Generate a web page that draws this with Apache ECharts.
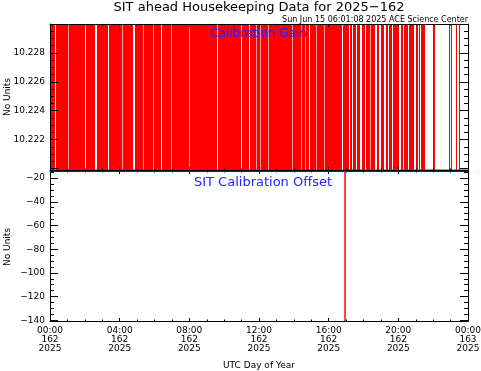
<!DOCTYPE html>
<html><head><meta charset="utf-8">
<script src="https://cdn.jsdelivr.net/npm/echarts@6/dist/echarts.min.js"></script>
<style>html,body{margin:0;padding:0;background:#fff;}#c{width:481px;height:371px;}</style>
</head><body><div id="c"></div>
<script>
// ---------- data ----------
const xTickHours = [0, 4, 8, 12, 16, 20, 24];
const xTickLabels = ['00:00\n162\n2025', '04:00\n162\n2025', '08:00\n162\n2025', '12:00\n162\n2025',
                     '16:00\n162\n2025', '20:00\n162\n2025', '00:00\n163\n2025'];
// Calibration gain: toggles between two levels
const gainLow = 10.2199;
const gainHigh = 10.2300;
// spans (hours) where the gain toggles continuously
const gainActiveSpans = [[0, 21.53]];
// isolated toggles later in the day (hours)
const gainPulses = [[21.99, 22.11], [22.90, 22.96], [23.03, 23.09], [23.31, 23.37], [23.48, 23.54]];
// short quiet intervals (hours) inside the active span
const gainQuietGaps = [
  [0.274,0.334],[1.022,1.047],[1.997,2.057],[2.611,2.671],[3.317,3.377],[4.122,4.147],[4.793,4.853],
  [5.328,5.353],[5.919,5.944],[6.383,6.443],[6.935,6.960],[7.969,7.994],[9.599,9.659],[10.977,11.037],
  [11.413,11.473],[11.856,11.881],[12.045,12.070],[12.505,12.530],[13.923,13.948],[14.440,14.465],
  [14.629,14.654],[14.858,14.918],[15.301,15.326],[15.720,15.745],[16.753,16.813],[17.155,17.215],
  [17.350,17.410],[17.580,17.640],[17.826,17.886],[18.096,18.156],[18.401,18.426],[18.688,18.748],
  [18.917,18.977],[19.204,19.264],[19.394,19.454],[19.647,19.707],[20.066,20.126],[20.255,20.315],
  [20.565,20.625],[20.927,20.987],[21.116,21.176],[21.254,21.314]
];
// Calibration offset
const offsetHours  = [0, 16.94, 16.94, 16.94, 24];
const offsetValues = [-14, -14, -140.6, -14, -14];
const offsetMin = -140.6, offsetMax = -14;

// ---------- chart ----------
const FONT = 'DejaVu Sans';
const RED = '#ff0000';
const BLUE = '#2222ff';
const chart = echarts.init(document.getElementById('c'), null, {renderer: 'canvas', width: 481, height: 371});

function rectRenderer(color) {
  return function (params, api) {
    const a = api.coord([api.value(0), api.value(2)]);
    const b = api.coord([api.value(1), api.value(3)]);
    const w = b[0] - a[0];
    let rx, rw, op = 1;
    if (w < 1) { rx = Math.floor((a[0] + b[0]) / 2); rw = 1; op = Math.min(1, w * 1.4); }
    else { rx = Math.round(a[0]); rw = Math.max(1, Math.round(b[0]) - rx); }
    return {type: 'rect', shape: {x: rx, y: a[1], width: rw, height: b[1] - a[1]},
            style: {fill: color, opacity: op}};
  };
}
const toRects = arr => arr.map(s => [s[0], s[1], gainHigh, gainLow]);

const axisLineStyle = {show: true, onZero: false, lineStyle: {color: '#000', width: 1}};
function xAx(grid, pos, labels, z) {
  return {
    type: 'value', gridIndex: grid, position: pos, min: 0, max: 24, interval: 4, z: z,
    axisLine: axisLineStyle,
    axisTick: {show: true, inside: true, length: 3, lineStyle: {color: '#000'}},
    minorTick: {show: true, splitNumber: 4, length: 1.5, lineStyle: {color: '#000'}},
    splitLine: {show: false},
    axisLabel: labels ? {
      show: true, color: '#000', fontFamily: FONT, fontSize: 9, lineHeight: 9, margin: 5,
      formatter: v => { const i = xTickHours.indexOf(Math.round(v)); return i >= 0 ? xTickLabels[i] : ''; }
    } : {show: false},
    name: labels ? 'UTC Day of Year' : '',
    nameLocation: 'middle', nameGap: 40,
    nameTextStyle: {color: '#000', fontFamily: FONT, fontSize: 9}
  };
}
function yAx(grid, pos, min, max, split, labels, fmt, z) {
  return {
    type: 'value', gridIndex: grid, position: pos, min: min, max: max, splitNumber: split, z: z,
    axisLine: axisLineStyle,
    axisTick: {show: true, inside: true, length: 8, lineStyle: {color: '#000'}},
    minorTick: {show: true, splitNumber: 4, length: 4, lineStyle: {color: '#000'}},
    splitLine: {show: false},
    axisLabel: labels ? {show: true, color: '#000', fontFamily: FONT, fontSize: 9, margin: 5,
      showMinLabel: false, showMaxLabel: false, formatter: fmt} : {show: false}
  };
}
const gainFmt = v => (v > 10.2205 && v < 10.2295) ? v.toFixed(3) : '';
const offFmt = v => (v < -15 && v > -140.5) ? String(Math.round(v)).replace('-', '\u2212') : '';

const option = {
  animation: false,
  backgroundColor: '#fff',
  grid: [
    {left: 50, right: 13, top: 24, height: 146, outerBoundsMode: 'none', containLabel: false},
    {left: 50, right: 13, top: 171, height: 150, outerBoundsMode: 'none', containLabel: false}
  ],
  xAxis: [xAx(0, 'bottom', false, 10), xAx(0, 'top', false, 10),
          xAx(1, 'bottom', true, 0), xAx(1, 'top', false, 0)],
  yAxis: [yAx(0, 'left', gainLow, gainHigh, 5, true, gainFmt, 10), yAx(0, 'right', gainLow, gainHigh, 5, false, null, 10),
          yAx(1, 'left', offsetMin, offsetMax, 6, true, offFmt, 0), yAx(1, 'right', offsetMin, offsetMax, 6, false, null, 0)],
  series: [
    {type: 'custom', xAxisIndex: 0, yAxisIndex: 0, renderItem: rectRenderer(RED), data: toRects(gainActiveSpans)},
    {type: 'custom', xAxisIndex: 0, yAxisIndex: 0, renderItem: rectRenderer('#ffffff'), data: toRects(gainQuietGaps)},
    {type: 'custom', xAxisIndex: 0, yAxisIndex: 0, renderItem: rectRenderer(RED), data: toRects(gainPulses)},
    {type: 'line', xAxisIndex: 0, yAxisIndex: 0, showSymbol: false, clip: false,
     lineStyle: {color: RED, width: 1}, data: [[0, gainLow], [24, gainLow]]},
    {type: 'line', xAxisIndex: 2, yAxisIndex: 2, showSymbol: false, clip: false,
     lineStyle: {color: RED, width: 1}, data: offsetHours.map((h, i) => [h, offsetValues[i]])}
  ],
  graphic: [
    {type: 'text', z: 100, x: 259, y: 8, style: {text: 'SIT ahead Housekeeping Data for 2025\u2212162',
      fill: '#000', font: '13px "DejaVu Sans"', textAlign: 'center', textVerticalAlign: 'middle'}},
    {type: 'text', z: 100, x: 468, y: 19.5, style: {text: 'Sun Jun 15 06:01:08 2025 ACE Science Center',
      fill: '#000', font: '8px "DejaVu Sans"', textAlign: 'right', textVerticalAlign: 'middle'}},
    {type: 'text', z: 100, x: 258.5, y: 33.5, style: {text: 'Calibration Gain',
      fill: BLUE, font: '12px "DejaVu Sans"', textAlign: 'center', textVerticalAlign: 'middle'}},
    {type: 'text', z: 100, x: 263, y: 182.7, style: {text: 'SIT Calibration Offset',
      fill: BLUE, font: '13px "DejaVu Sans"', textAlign: 'center', textVerticalAlign: 'middle'}},
    {type: 'text', z: 100, x: 8, y: 97, rotation: Math.PI / 2, style: {text: 'No Units',
      fill: '#000', font: '9px "DejaVu Sans"', textAlign: 'center', textVerticalAlign: 'middle'}},
    {type: 'text', z: 100, x: 8, y: 247, rotation: Math.PI / 2, style: {text: 'No Units',
      fill: '#000', font: '9px "DejaVu Sans"', textAlign: 'center', textVerticalAlign: 'middle'}}
  ]
};
chart.setOption(option);
</script></body></html>
